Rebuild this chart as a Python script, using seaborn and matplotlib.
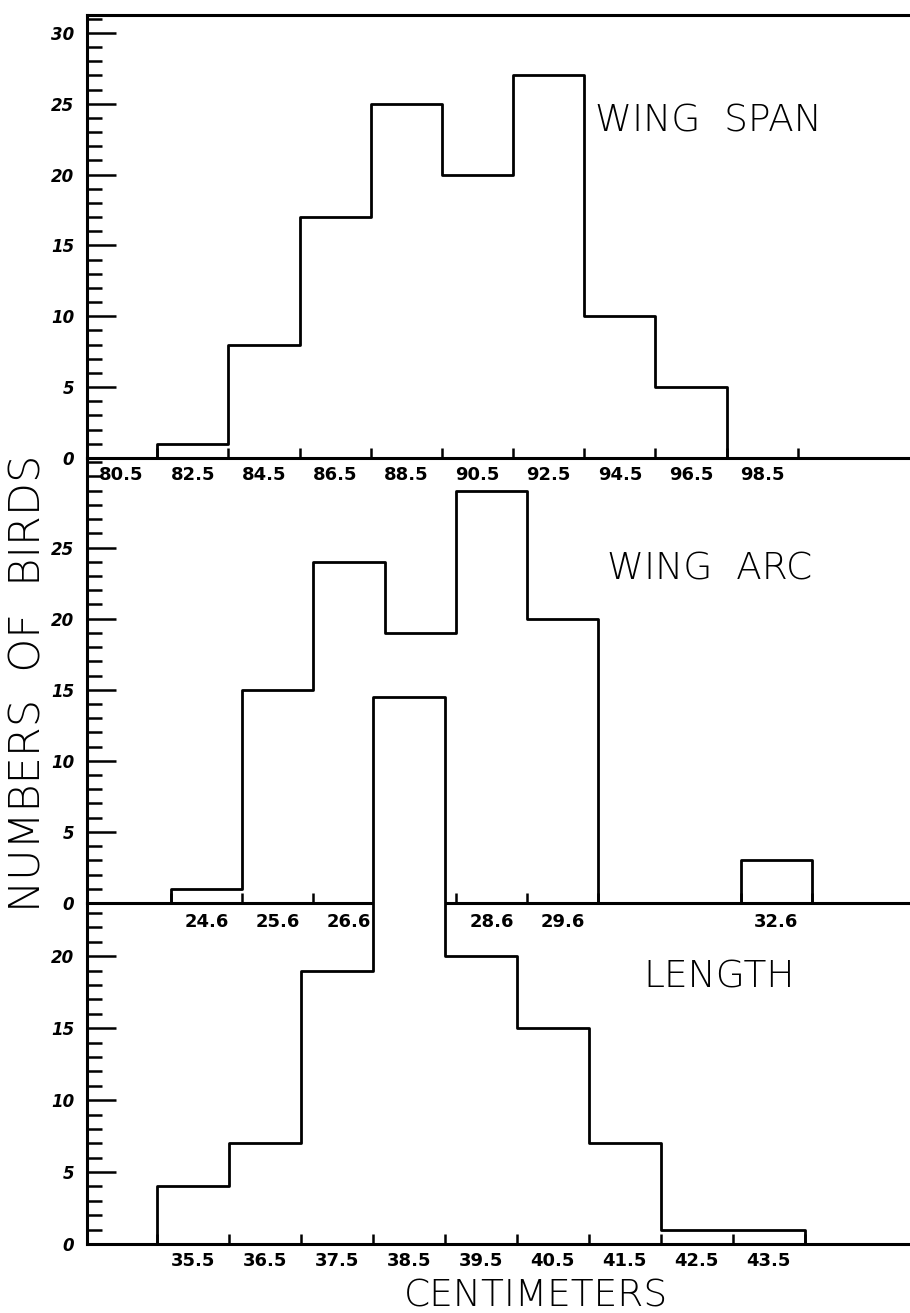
import numpy as np
import pandas as pd
import seaborn as sns
from matplotlib import pyplot as plt

sns.set_theme(style="white")
plt.rcParams['font.family'] = ['DejaVu Sans']
plt.rcParams['text.color'] = 'black'
plt.rcParams['xtick.color'] = 'black'
plt.rcParams['ytick.color'] = 'black'
plt.rcParams['axes.axisbelow'] = False

# WING SPAN, 2 cm classes
span_edges = [81.5, 83.5, 85.5, 87.5, 89.5, 91.5, 93.5, 95.5, 97.5]
span_counts = [1, 8, 17, 25, 20, 27, 10, 5]
span_labels = ["80.5", "82.5", "84.5", "86.5", "88.5", "90.5", "92.5", "94.5", "96.5", "98.5"]
span_ticks = [81.5, 83.5, 85.5, 87.5, 89.5, 91.5, 93.5, 95.5, 97.5, 99.5]

# WING ARC, 1 cm classes
arc_edges = [24.1, 25.1, 26.1, 27.1, 28.1, 29.1, 30.1, 31.1, 32.1, 33.1]
arc_counts = [1, 15, 24, 19, 29, 20, 0, 0, 3]
arc_labels = ["24.6", "25.6", "26.6", "27.6", "28.6", "29.6", "32.6"]
arc_ticks = [24.1, 25.1, 26.1, 27.1, 28.1, 29.1, 30.1, 32.1, 33.1]

# LENGTH, 1 cm classes
len_edges = [35, 36, 37, 38, 39, 40, 41, 42, 43, 44]
len_counts = [4, 7, 19, 38, 20, 15, 7, 1, 1]
len_labels = ["35.5", "36.5", "37.5", "38.5", "39.5", "40.5", "41.5", "42.5", "43.5"]
len_ticks = [35, 36, 37, 38, 39, 40, 41, 42, 43, 44]

fig, axes = plt.subplots(3, 1, figsize=(9.1, 13.13), dpi=100,
                         gridspec_kw={"height_ratios": [443, 445, 341]})
fig.subplots_adjust(left=87/910, right=1.0, top=1 - 15/1313, bottom=69/1313, hspace=0)


def panel(ax, edges, counts, labels, ticks, xlim, ylim, ymax_major, title, tpos, xpad):
    mids = [(a + b) / 2 for a, b in zip(edges[:-1], edges[1:])]
    df = pd.DataFrame({"cm": mids, "n": counts})
    sns.histplot(data=df, x="cm", weights="n", bins=[float(e) for e in edges],
                 element="step", fill=True,
                 facecolor="white", edgecolor="black", linewidth=2, ax=ax)
    ax.set_xlim(*xlim)
    ax.set_ylim(*ylim)
    ax.set_xlabel("")
    ax.set_ylabel("")
    ax.set_facecolor("none")
    ax.set_axisbelow(False)

    ax.set_xticks([float(s) for s in labels], labels)
    ax.set_xticks(ticks, minor=True)
    ax.tick_params(axis="x", which="both", bottom=True)
    ax.tick_params(axis="x", which="major", length=0, pad=xpad, labelsize=13)
    ax.tick_params(axis="x", which="minor", direction="in", length=7, width=1.8)
    ax.set_yticks(range(0, ymax_major + 1, 5))
    ax.set_yticks(range(0, int(ylim[1]) + 1), minor=True)
    ax.tick_params(axis="y", which="both", left=True)
    ax.tick_params(axis="y", which="major", direction="in", length=21, width=1.8,
                   pad=9, labelsize=12)
    ax.tick_params(axis="y", which="minor", direction="in", length=10.5, width=1.8)
    for lab in ax.get_xticklabels() + ax.get_yticklabels():
        lab.set_fontweight("bold")
    for lab in ax.get_yticklabels():
        lab.set_fontstyle("italic")

    for side in ["left", "bottom", "top"]:
        ax.spines[side].set_color("black")
        ax.spines[side].set_linewidth(2.2)
    ax.spines["right"].set_visible(False)

    ax.text(tpos[0], tpos[1], title, transform=ax.transAxes, fontsize=27,
            fontweight="light", ha="left", va="baseline")


panel(axes[0], span_edges, span_counts, span_labels, span_ticks,
      (79.53, 102.65), (0, 31.27), 30, "WING  SPAN", (0.617, 0.736), 6)
panel(axes[1], arc_edges, arc_counts, arc_labels, arc_ticks,
      (22.92, 34.48), (0, 31.3), 25, "WING  ARC", (0.632, 0.726), 7)
panel(axes[2], len_edges, len_counts, len_labels, len_ticks,
      (34.03, 45.46), (0, 23.7), 20, "LENGTH", (0.676, 0.751), 6)

axes[1].spines["top"].set_visible(False)
axes[2].spines["top"].set_visible(False)

# the tallest LENGTH class runs up into the WING ARC panel
axes[2].collections[0].set_clip_on(False)

fig.text(28/910, 1 - 683/1313, "NUMBERS  OF  BIRDS", rotation=90, ha="center", va="center",
         fontsize=31, fontweight="light")
fig.text(536/910, 1 - 1296/1313, "CENTIMETERS", ha="center", va="center",
         fontsize=27, fontweight="light")

plt.savefig("out.png", dpi=100, facecolor="white")
